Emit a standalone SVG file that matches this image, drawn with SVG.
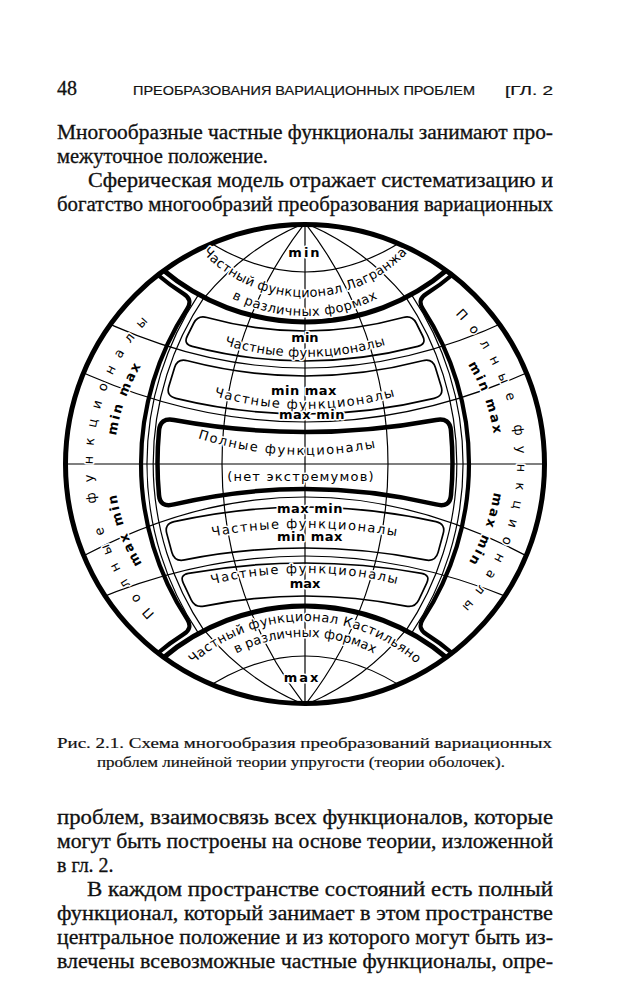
<svg xmlns="http://www.w3.org/2000/svg" width="633" height="1000" viewBox="0 0 633 1000">
<style>
.pg{font-family:"Liberation Serif","Times New Roman",serif;font-size:20px;fill:#111;stroke:#111;stroke-width:0.3}
.cp{font-family:"Liberation Serif","Times New Roman",serif;font-size:15px;fill:#111;stroke:#111;stroke-width:0.2}
.hd{font-family:"Liberation Sans",Arial,sans-serif;font-size:13px;fill:#111;stroke:#111;stroke-width:0.2}
.thk{fill:none;stroke:#000;stroke-width:5}
.pnl{fill:none;stroke:#000;stroke-width:4.2;stroke-linejoin:round}
.bw{fill:none;stroke:#000;stroke-width:4.5;stroke-linejoin:round}
.box{fill:none;stroke:#000;stroke-width:1.7}
.tn{fill:none;stroke:#000;stroke-width:1.2}
.lb{font-family:"DejaVu Sans",sans-serif;font-size:13px;fill:#000;stroke:#fff;stroke-width:3;paint-order:stroke;stroke-linejoin:round}
.b{font-weight:bold}
</style>
<defs>
<clipPath id="globe"><circle cx="305" cy="464" r="239"/></clipPath>
<path id="p-top1" d="M167.1,181.3 A140,140 0 0 0 442.9,181.3"/>
<path id="p-top2" d="M167.3,236.5 A159,159 0 0 0 442.7,236.5"/>
<path id="p-bot1" d="M148.1,730.9 A167,167 0 0 1 461.9,730.9"/>
<path id="p-bot2" d="M174.2,712.5 A151,151 0 0 1 435.8,712.5"/>
<path id="p-b1" d="M188.4,331.1 A276,276 0 0 0 421.6,331.1"/>
<path id="p-b2" d="M183.3,385.3 A325,325 0 0 0 426.7,385.3"/>
<path id="p-bw" d="M185.3,433.9 A350,350 0 0 0 424.7,433.9"/>
<path id="p-b4" d="M197.7,539.3 A516,516 0 0 1 412.3,539.3"/>
<path id="p-b5" d="M204.8,586.2 A387,387 0 0 1 405.2,586.2"/>
<path id="p-L" d="M305,676 A212,212 0 0 1 93,464 A212,212 0 0 1 305,252"/>
<path id="p-R" d="M305,252 A212,212 0 0 1 517,464 A212,212 0 0 1 305,676"/>
<path id="p-LU" d="M114,464 A191,191 0 0 1 158.7,341.2"/>
<path id="p-LD" d="M158.7,586.8 A191,191 0 0 1 114,464"/>
<path id="p-RU" d="M451.3,341.2 A191,191 0 0 1 496,464"/>
<path id="p-RD" d="M496,464 A191,191 0 0 1 451.3,586.8"/>
</defs>
<rect width="633" height="1000" fill="#fff"/>

<g id="page-text">
<text class="pg" x="57" y="95" font-size="16">48</text>
<text class="hd" x="133" y="95" textLength="342" lengthAdjust="spacingAndGlyphs">ПРЕОБРАЗОВАНИЯ ВАРИАЦИОННЫХ ПРОБЛЕМ</text>
<text class="hd" x="505" y="95" textLength="48" lengthAdjust="spacingAndGlyphs">[ГЛ. 2</text>
<text class="pg" x="57" y="139" textLength="496" lengthAdjust="spacingAndGlyphs">Многообразные частные функционалы занимают про-</text>
<text class="pg" x="57" y="163" textLength="211" lengthAdjust="spacingAndGlyphs">межуточное положение.</text>
<text class="pg" x="88" y="187" textLength="465" lengthAdjust="spacingAndGlyphs">Сферическая модель отражает систематизацию и</text>
<text class="pg" x="57" y="211" textLength="496" lengthAdjust="spacingAndGlyphs">богатство многообразий преобразования вариационных</text>
<text class="cp" x="57" y="748" textLength="495" lengthAdjust="spacingAndGlyphs">Рис.  2.1. Схема  многообразия  преобразований  вариационных</text>
<text class="cp" x="97" y="767" textLength="408" lengthAdjust="spacingAndGlyphs">проблем линейной теории упругости (теории оболочек).</text>
<text class="pg" x="57" y="824" textLength="496" lengthAdjust="spacingAndGlyphs">проблем, взаимосвязь всех функционалов, которые</text>
<text class="pg" x="57" y="848" textLength="496" lengthAdjust="spacingAndGlyphs">могут быть построены на основе теории, изложенной</text>
<text class="pg" x="57" y="872">в гл. 2.</text>
<text class="pg" x="87" y="896" textLength="466" lengthAdjust="spacingAndGlyphs">В каждом пространстве состояний есть полный</text>
<text class="pg" x="57" y="920" textLength="496" lengthAdjust="spacingAndGlyphs">функционал, который занимает в этом пространстве</text>
<text class="pg" x="57" y="944" textLength="496" lengthAdjust="spacingAndGlyphs">центральное положение и из которого могут быть из-</text>
<text class="pg" x="57" y="968" textLength="496" lengthAdjust="spacingAndGlyphs">влечены всевозможные частные функционалы, опре-</text>
</g>

<g id="connectors" clip-path="url(#globe)">
<path class="tn" d="M305,223 L305,705"/>
<path class="tn" d="M305,223 A391.4,391.4 0 0 0 305,705"/>
<path class="tn" d="M305,223 A391.4,391.4 0 0 1 305,705"/>
<path class="tn" d="M305,223 A261.5,261.5 0 0 0 204.4,297.7"/>
<path class="tn" d="M305,223 A261.5,261.5 0 0 1 405.6,297.7"/>
<path class="tn" d="M305,705 A261.5,261.5 0 0 1 204.4,630.3"/>
<path class="tn" d="M305,705 A261.5,261.5 0 0 0 405.6,630.3"/>
<path class="tn" d="M198.4,294.8 A304,304 0 0 0 198.4,633.2"/>
<path class="tn" d="M204.1,297.4 A298,298 0 0 0 204.1,630.6"/>
<path class="tn" d="M411.6,294.8 A304,304 0 0 1 411.6,633.2"/>
<path class="tn" d="M405.9,297.4 A298,298 0 0 1 405.9,630.6"/>
<path class="tn" d="M200,235.9 Q305,308.1 410,235.9"/>
<path class="tn" d="M200,692.1 Q305,619.9 410,692.1"/>
<path class="tn" d="M40,287.2 Q305,448.8 570,287.2"/>
<path class="tn" d="M40,351.8 Q305,492.2 570,351.8"/>
<path class="tn" d="M40,464 L570,464"/>
<path class="tn" d="M40,581.3 Q305,412.7 570,581.3"/>
<path class="tn" d="M40,626.2 Q305,485.8 570,626.2"/>
</g>

<g id="band-1">
<path class="box" d="M206.9,317.5 Q305,344.5 403.1,317.5 Q412.1,315 416.2,323 L422.7,336 Q426.8,344 417.8,346.4 Q305,375.6 192.2,346.4 Q183.2,344 187.3,336 L193.8,323 Q197.9,315 206.9,317.5 Z"/>
</g>
<g id="band-2">
<path class="box" d="M187.5,360.8 Q305,391.2 422.5,360.8 Q432.5,358 435.4,367.6 L441.2,386.4 Q444.1,396 434.1,398.3 Q305,429.7 175.9,398.3 Q165.9,396 168.8,386.4 L174.6,367.6 Q177.5,358 187.5,360.8 Z"/>
</g>
<g id="band-full">
<path class="bw" d="M174,420 Q305,444 436,420 Q450,417.3 451,431 Q454,463 451,495 Q450,507.9 436,504.4 Q305,473.6 174,504.4 Q160,507.9 159,495 Q156,463 159,431 Q160,417.3 174,420 Z"/>
</g>
<g id="band-4">
<path class="box" d="M174.1,521.7 Q305,492.3 435.9,521.7 Q445.9,524 443.2,533.6 L438.1,552.4 Q435.4,562 425.4,559.9 Q305,536.1 184.6,559.9 Q174.6,562 171.9,552.4 L166.8,533.6 Q164.1,524 174.1,521.7 Z"/>
</g>
<g id="band-5">
<path class="box" d="M188.4,573.3 Q305,552.7 421.6,573.3 Q430.6,575 426.7,583.1 L418.8,599.9 Q414.9,608 405.9,606.1 Q305,585.9 204.1,606.1 Q195.1,608 191.2,599.9 L183.3,583.1 Q179.4,575 188.4,573.3 Z"/>
</g>
<g id="top-cap">
<path class="thk" d="M162.6,269.6 A220,220 0 0 0 447.4,269.6"/>
</g>
<g id="bottom-cap">
<path class="thk" d="M162.6,658.4 A220,220 0 0 1 447.4,658.4"/>
</g>
<g id="left-panel">
<path class="pnl" d="M156.7,274 A227,227 0 0 0 183.7,293.9 Q193.1,299.6 187.1,308.9 A284.1,284.1 0 0 0 187.1,619.1 Q193.1,628.4 183.7,634.1 A227,227 0 0 0 156.7,654"/>
</g>
<g id="right-panel">
<path class="pnl" d="M453.3,274 A227,227 0 0 1 426.3,293.9 Q416.9,299.6 422.9,308.9 A284.1,284.1 0 0 1 422.9,619.1 Q416.9,628.4 426.3,634.1 A227,227 0 0 1 453.3,654"/>
</g>
<g id="sphere">
<circle class="thk" cx="305" cy="464" r="239.5"/>
</g>

<g id="labels">
<text class="lb b" x="305" y="257" text-anchor="middle" font-size="15" letter-spacing="2">min</text>
<text class="lb" font-size="15" text-anchor="middle" letter-spacing="0.3"><textPath href="#p-top1" startOffset="50%">Частный функционал Лагранжа</textPath></text>
<text class="lb" font-size="14" text-anchor="middle" letter-spacing="0.5"><textPath href="#p-top2" startOffset="50%">в различных формах</textPath></text>

<text class="lb b" x="305" y="342" text-anchor="middle">min</text>
<text class="lb" text-anchor="middle" letter-spacing="0.3"><textPath href="#p-b1" startOffset="50%">Частные функционалы</textPath></text>

<text class="lb b" x="304" y="395" text-anchor="middle" letter-spacing="0.5">min max</text>
<text class="lb" text-anchor="middle" letter-spacing="1.4"><textPath href="#p-b2" startOffset="50%">Частные функционалы</textPath></text>
<text class="lb b" x="312" y="419" text-anchor="middle" letter-spacing="0.5">max min</text>

<text class="lb" font-size="14" text-anchor="middle" letter-spacing="1.6"><textPath href="#p-bw" startOffset="104">Полные функционалы</textPath></text>
<text class="lb" font-size="14" x="301" y="481" text-anchor="middle" letter-spacing="1.2">(нет экстремумов)</text>

<text class="lb b" x="310" y="513" text-anchor="middle" letter-spacing="0.5">max min</text>
<text class="lb" text-anchor="middle" letter-spacing="1.5"><textPath href="#p-b4" startOffset="50%">Частные функционалы</textPath></text>
<text class="lb b" x="310" y="541" text-anchor="middle" letter-spacing="0.5">min max</text>

<text class="lb" text-anchor="middle" letter-spacing="1.6"><textPath href="#p-b5" startOffset="50%">Частные функционалы</textPath></text>
<text class="lb b" x="305" y="588" text-anchor="middle">max</text>

<text class="lb" font-size="14.5" text-anchor="middle" letter-spacing="0.4"><textPath href="#p-bot1" startOffset="50%">Частный функционал Кастильяно</textPath></text>
<text class="lb" font-size="14" text-anchor="middle"><textPath href="#p-bot2" startOffset="50%">в различных формах</textPath></text>
<text class="lb b" x="302" y="682" text-anchor="middle" font-size="15" letter-spacing="2">max</text>

<text class="lb" font-size="13.5" text-anchor="middle" letter-spacing="10"><textPath href="#p-L" startOffset="50%">Полные функционалы</textPath></text>
<text class="lb" font-size="13.5" text-anchor="middle" letter-spacing="10"><textPath href="#p-R" startOffset="50%">Полные функционалы</textPath></text>
<text class="lb b" text-anchor="middle" letter-spacing="2"><textPath href="#p-LU" startOffset="50%">min max</textPath></text>
<text class="lb b" text-anchor="middle" letter-spacing="2"><textPath href="#p-LD" startOffset="50%">max min</textPath></text>
<text class="lb b" text-anchor="middle" letter-spacing="2"><textPath href="#p-RU" startOffset="50%">min max</textPath></text>
<text class="lb b" text-anchor="middle" letter-spacing="2"><textPath href="#p-RD" startOffset="50%">max min</textPath></text>
</g>
</svg>
